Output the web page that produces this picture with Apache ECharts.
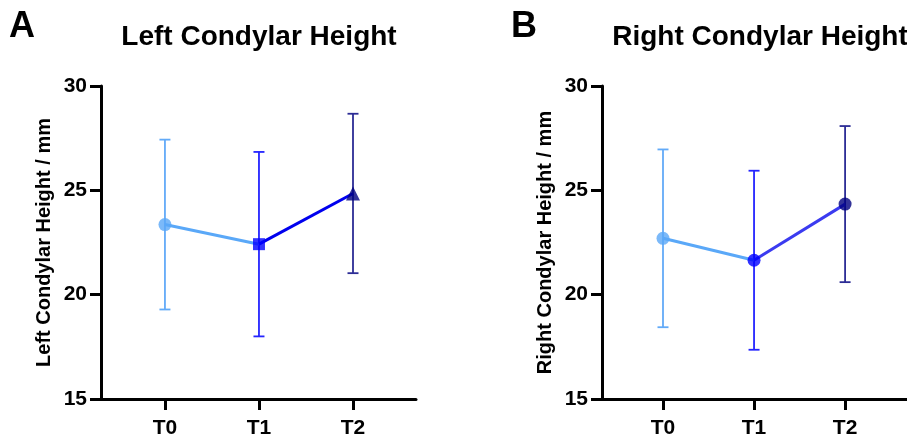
<!DOCTYPE html>
<html>
<head>
<meta charset="utf-8">
<script src="https://cdn.jsdelivr.net/npm/echarts@6/dist/echarts.min.js"></script>
<style>html,body{margin:0;padding:0;background:#fff;}#c{width:907px;height:439px;}</style>
</head>
<body>
<div id="c"></div>
<script>
const categories = ['T0', 'T1', 'T2'];
const leftMean = [23.36, 22.42, 24.85];
const leftSD = [4.07, 4.42, 3.82];
const rightMean = [22.70, 21.65, 24.34];
const rightSD = [4.26, 4.29, 3.74];
const yMin = 15, yMax = 30, yStep = 5;
const panelTitles = ['Left Condylar Height', 'Right Condylar Height'];
const yNames = ['Left Condylar Height / mm', 'Right Condylar Height / mm'];
const panelLetters = ['A', 'B'];

const pointColors = ['#5aa8f8', '#0000ff', '#000080'];
const barColors = ['#62aaf8', '#2424ff', '#2c2c95'];
const FONT = '"Liberation Sans", Arial, sans-serif';

const chart = echarts.init(document.getElementById('c'));

function panel(idx, means, sds, symbols, seg2Color) {
  const series = [];
  series.push({
    type: 'custom', xAxisIndex: idx, yAxisIndex: idx, z: 2,
    data: means.map((m, i) => [i, m - sds[i], m + sds[i]]),
    renderItem: (params, api) => {
      const x = api.value(0);
      const top = api.coord([x, api.value(2)]);
      const bot = api.coord([x, api.value(1)]);
      const hw = 5.5;
      const st = { stroke: barColors[params.dataIndex], lineWidth: 1.8 };
      return { type: 'group', children: [
        { type: 'line', shape: { x1: top[0], y1: top[1], x2: bot[0], y2: bot[1] }, style: st },
        { type: 'line', shape: { x1: top[0] - hw, y1: top[1], x2: top[0] + hw, y2: top[1] }, style: st },
        { type: 'line', shape: { x1: bot[0] - hw, y1: bot[1], x2: bot[0] + hw, y2: bot[1] }, style: st }
      ]};
    }
  });
  series.push({
    type: 'line', xAxisIndex: idx, yAxisIndex: idx, z: 3, symbol: 'none',
    lineStyle: { color: pointColors[0], width: 3 },
    data: [[0, means[0]], [1, means[1]]]
  });
  series.push({
    type: 'line', xAxisIndex: idx, yAxisIndex: idx, z: 3, symbol: 'none',
    lineStyle: { color: seg2Color, width: 3 },
    data: [[1, means[1]], [2, means[2]]]
  });
  series.push({
    type: 'scatter', xAxisIndex: idx, yAxisIndex: idx, z: 4,
    data: means.map((m, i) => ({
      value: [i, m], symbol: symbols[i].s, symbolSize: symbols[i].size,
      itemStyle: { color: pointColors[i] }
    }))
  });
  return series;
}

const grids = [
  { left: 101, top: 86, width: 315, height: 315 },
  { left: 602, top: 86, width: 315, height: 315 }
];
const xRanges = [[-0.68, 2.67], [-0.67, 2.68]];

const xAxes = grids.map((g, i) => ({
  type: 'value', gridIndex: i, min: xRanges[i][0], max: xRanges[i][1],
  splitLine: { show: false },
  axisLine: { onZero: false, lineStyle: { color: '#000', width: 3 } },
  axisTick: { customValues: [0, 1, 2], length: 11, lineStyle: { color: '#000', width: 3 } },
  axisLabel: { customValues: [0, 1, 2], formatter: v => categories[Math.round(v)] || '',
    color: '#000', fontSize: 21, fontWeight: 'bold', fontFamily: FONT, margin: 19 }
}));
const yAxes = grids.map((g, i) => ({
  type: 'value', gridIndex: i, min: yMin, max: yMax, interval: yStep,
  name: yNames[i], nameLocation: 'middle', nameRotate: 90, nameGap: 47,
  nameTextStyle: { color: '#000', fontSize: 20, fontWeight: 'bold', fontFamily: FONT },
  splitLine: { show: false },
  axisLine: { show: true, onZero: false, lineStyle: { color: '#000', width: 3 } },
  axisTick: { show: true, length: 11, lineStyle: { color: '#000', width: 3 } },
  axisLabel: { color: '#000', fontSize: 21, fontWeight: 'bold', fontFamily: FONT, margin: 14 }
}));

const option = {
  animation: false,
  backgroundColor: '#fff',
  grid: grids,
  xAxis: xAxes,
  yAxis: yAxes,
  graphic: [
    { type: 'text', x: 259, y: 37, style: { text: panelTitles[0], fill: '#000', font: 'bold 28px ' + FONT, align: 'center', verticalAlign: 'middle' } },
    { type: 'text', x: 760, y: 37, style: { text: panelTitles[1], fill: '#000', font: 'bold 28px ' + FONT, align: 'center', verticalAlign: 'middle' } },
    { type: 'text', x: 22, y: 27, style: { text: panelLetters[0], fill: '#000', font: 'bold 36px ' + FONT, align: 'center', verticalAlign: 'middle' } },
    { type: 'text', x: 524, y: 27, style: { text: panelLetters[1], fill: '#000', font: 'bold 36px ' + FONT, align: 'center', verticalAlign: 'middle' } }
  ],
  series: [
    ...panel(0, leftMean, leftSD, [{ s: 'circle', size: 13 }, { s: 'rect', size: 12 }, { s: 'triangle', size: 14 }], '#0000ee'),
    ...panel(1, rightMean, rightSD, [{ s: 'circle', size: 13 }, { s: 'circle', size: 13 }, { s: 'circle', size: 13 }], '#3b3bf0')
  ]
};
chart.setOption(option);
</script>
</body>
</html>
